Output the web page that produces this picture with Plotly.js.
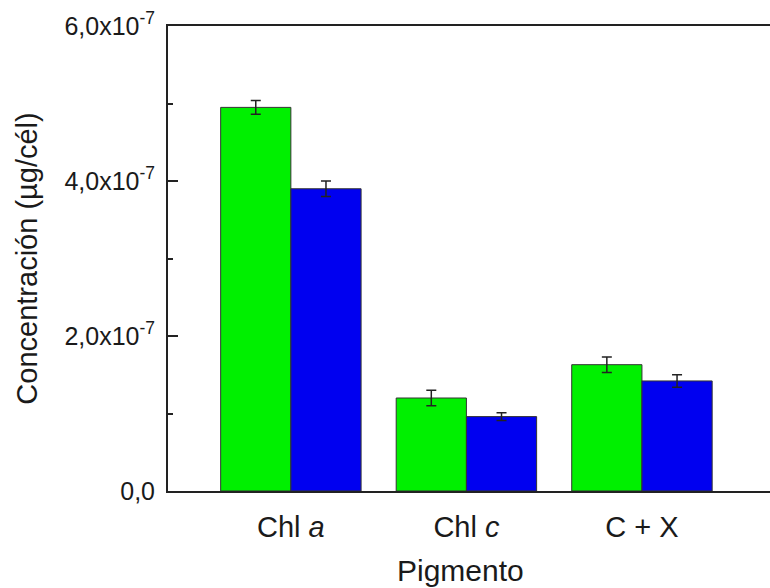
<!DOCTYPE html>
<html>
<head>
<meta charset="utf-8">
<script src="https://cdn.plot.ly/plotly-3.0.1.min.js"></script>
<style>
html,body{margin:0;padding:0;overflow:hidden;background:#fff;}
#chart{width:780px;height:588px;}
</style>
</head>
<body>
<div id="chart"></div>
<script>
const categories = ["Chl <i>a</i>", "Chl <i>c</i>", "C + X"];
const seriesGreen = [4.95e-7, 1.20e-7, 1.63e-7];
const errGreen = [0.09e-7, 0.10e-7, 0.10e-7];
const seriesBlue = [3.90e-7, 0.96e-7, 1.42e-7];
const errBlue = [0.10e-7, 0.05e-7, 0.08e-7];
const yTickVals = [0, 2e-7, 4e-7, 6e-7];
const yTickText = ["0,0", "2,0x10<sup>-7</sup>", "4,0x10<sup>-7</sup>", "6,0x10<sup>-7</sup>"];
const yMinorVals = [1e-7, 3e-7, 5e-7];
const xTitle = "Pigmento";
const yTitle = "Concentración (µg/cél)";

const font = {family: "Liberation Sans, Arial, sans-serif", color: "#1a1a1a"};
const lineCol = "#222";

const traces = [
  {
    type: "bar", x: categories, y: seriesGreen,
    marker: {color: "#00f000", line: {color: "#333", width: 1}},
    error_y: {type: "data", array: errGreen, visible: true, color: "#222", thickness: 1.5, width: 5}
  },
  {
    type: "bar", x: categories, y: seriesBlue,
    marker: {color: "#0000f0", line: {color: "#333", width: 1}},
    error_y: {type: "data", array: errBlue, visible: true, color: "#222", thickness: 1.5, width: 5}
  }
];

const layout = {
  width: 780, height: 588,
  margin: {l: 168, r: 5, t: 26, b: 97},
  paper_bgcolor: "#fff", plot_bgcolor: "#fff",
  showlegend: false,
  barmode: "group", bargap: 0.2, bargroupgap: 0,
  font: font,
  xaxis: {
    type: "category",
    range: [-0.70, 2.758],
    showline: true, linecolor: lineCol, linewidth: 2, mirror: true,
    ticks: "", showgrid: false, zeroline: false,
    tickfont: {size: 29, family: font.family, color: font.color},
    ticklabelstandoff: 9
  },
  yaxis: {
    range: [0, 6e-7],
    tickmode: "array", tickvals: yTickVals, ticktext: yTickText,
    showline: true, linecolor: lineCol, linewidth: 2, mirror: true,
    ticks: "inside", ticklen: 10, tickwidth: 2, tickcolor: lineCol,
    minor: {tickmode: "array", tickvals: yMinorVals, ticks: "inside", ticklen: 5, tickwidth: 2, tickcolor: lineCol, showgrid: false},
    showgrid: false, zeroline: false,
    tickfont: {size: 25, family: font.family, color: font.color},
    ticklabelstandoff: 6,
    title: {text: yTitle, font: {size: 29, family: font.family, color: font.color}, standoff: 18}
  },
  annotations: [{
    text: xTitle, xref: "paper", yref: "paper", x: 0.4827, y: -0.172,
    xanchor: "center", yanchor: "middle", showarrow: false,
    font: {size: 30, family: font.family, color: font.color}
  }]
};

Plotly.newPlot("chart", traces, layout, {displayModeBar: false, staticPlot: true});
</script>
</body>
</html>
